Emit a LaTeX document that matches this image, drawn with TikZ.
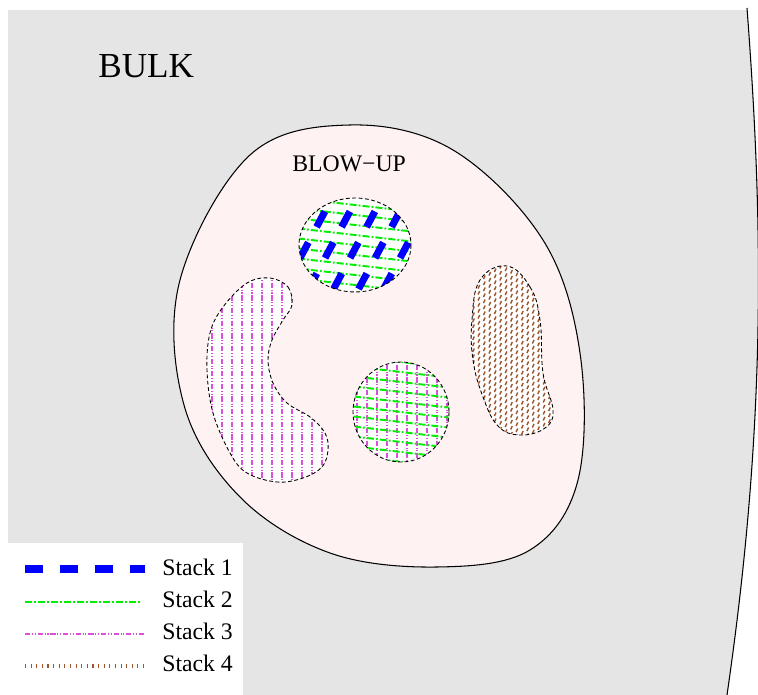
\documentclass[tikz,border=0pt]{standalone}
\usepackage{fontspec}
\setmainfont{Liberation Serif}
\usetikzlibrary{calc}

\definecolor{bulkgray}{RGB}{229,229,229}
\definecolor{blowpink}{RGB}{255,242,242}
\definecolor{stackblue}{RGB}{0,0,255}
\definecolor{stackgreen}{RGB}{0,238,0}
\definecolor{stackviolet}{RGB}{218,80,218}
\definecolor{stackbrown}{RGB}{160,82,45}

\tikzset{
    stackone/.style={stackblue, line width=4pt, dash pattern=on 10pt off 10pt},
    stacktwo/.style={stackgreen, line width=0.8pt, dash pattern=on 4pt off 1.2pt on 1pt off 1.2pt},
    stackthree/.style={stackviolet, line width=0.7pt, dash pattern=on 3pt off 1pt on 0.6pt off 1pt on 0.6pt off 1pt},
    stackfour/.style={stackbrown, line width=2.8pt, dash pattern=on 0.6pt off 2.6pt},
    patch/.style={black, line width=0.5pt, dash pattern=on 2.2pt off 1.4pt},
    legtext/.style={anchor=base west, inner sep=0pt, font=\fontsize{13.5}{16}\selectfont},
}

\begin{document}
\begin{tikzpicture}[x=0.02cm, y=-0.02cm]
        \useasboundingbox (0,0) rectangle (758,695);

        % 绘制背景
        \fill [bulkgray] (8,10) -- (747,10) .. controls (763,220) and (767,420) .. (727,695)
            -- (8,695) -- cycle;
        \draw [line width=0.6pt] (747,8) .. controls (763,220) and (767,420) .. (727,695);
        \node [anchor=base west, inner sep=0pt, font=\fontsize{20}{24}\selectfont] (bulk) at (98,78) {BULK};

        % 绘制 blow-up 区域
        \draw [fill=blowpink, line width=0.6pt] plot [smooth cycle, tension=0.6] coordinates {
            (350,125) (453,150) (543,240) (580,353) (578,480) (530,550)
            (437,567) (330,553) (240,497) (184,405) (180,280) (250,155)};
        \node [anchor=base west, inner sep=0pt, font=\fontsize{13.5}{16}\selectfont] (blowup) at (292,172) {BLOW−UP};

        \coordinate (C1) at (355,245);
        \coordinate (C2) at (268,380);
        \coordinate (C3) at (401,412);
        \coordinate (C4) at (512,350);

        %%%%%% 区域 1 : Stack 1, 2 %%%%%%
        \fill [white] (C1) ellipse [x radius=56, y radius=47];
        \begin{scope}
            \clip (C1) ellipse [x radius=56, y radius=47];
            \foreach \k in {-6,...,6}
                \draw [stacktwo, line width=1.1pt] ($(C1)+(-70,\k*10-8)$) -- ($(C1)+(70,\k*10+8)$);
            \foreach \dx in {-73,-48,...,52}
                \draw [stackone] ($(C1)+(\dx-40,75)$) -- ($(C1)+(\dx+40,-75)$);
        \end{scope}
        \draw [patch] (C1) ellipse [x radius=56, y radius=47];

        %%%%%% 区域 2 : Stack 3 %%%%%%
        \def\kidney{plot [smooth cycle, tension=0.6] coordinates {
            (270,278) (288,287) (292,305) (283,320) (272,340) (268,360) (273,383)
            (287,403) (310,417) (325,433) (328,450) (322,467) (303,478) (277,482)
            (247,473) (230,453) (213,413) (207,370) (210,333) (223,307) (247,283)}}
        \fill [white] \kidney;
        \begin{scope}
            \clip \kidney;
            \foreach \k in {0,...,12}
                \draw [stackthree] ($(C2)+(\k*10-56,-110)$) -- ($(C2)+(\k*10-56,110)$);
        \end{scope}
        \draw [patch] \kidney;

        %%%%%% 区域 3 : Stack 2, 3 %%%%%%
        \fill [white] (C3) ellipse [x radius=48, y radius=50];
        \begin{scope}
            \clip (C3) ellipse [x radius=48, y radius=50];
            \foreach \k in {-5,...,5}
                \draw [stackthree] ($(C3)+(\k*10+6,-60)$) -- ($(C3)+(\k*10+6,60)$);
            \foreach \k in {-6,...,6}
                \draw [stacktwo, line width=1.1pt] ($(C3)+(-60,\k*10-7)$) -- ($(C3)+(60,\k*10+7)$);
        \end{scope}
        \draw [patch] (C3) ellipse [x radius=48, y radius=50];

        %%%%%% 区域 4 : Stack 4 %%%%%%
        \def\capsule{plot [smooth cycle, tension=0.7] coordinates {
            (507,266) (530,287) (540,320) (543,373) (553,410) (545,428) (520,435)
            (498,426) (483,397) (473,360) (472,320) (480,280)}}
        \fill [white] \capsule;
        \begin{scope}
            \clip \capsule;
            \foreach \dy in {-120,-114,...,120}
                \draw [stackfour, line width=2.2pt, dash pattern=on 0.8pt off 2.6pt]
                    ($(C4)+(-50,\dy-23)$) -- ($(C4)+(50,\dy+23)$);
        \end{scope}
        \draw [patch] \capsule;

        % 图例
        \fill [white] (0,543) rectangle (243,695);
        \draw [stackone] (25,569) -- (145,569);
        \draw [stacktwo, line width=0.6pt] (25,602) -- (142,602);
        \draw [stackthree, line width=0.6pt] (25,634) -- (144,634);
        \draw [stackfour] (25,666) -- (144,666);
        \node [legtext] (leg1) at (162,576) {Stack 1};
        \node [legtext] (leg2) at (162,608) {Stack 2};
        \node [legtext] (leg3) at (162,640) {Stack 3};
        \node [legtext] (leg4) at (162,672) {Stack 4};

    \end{tikzpicture}
\end{document}
